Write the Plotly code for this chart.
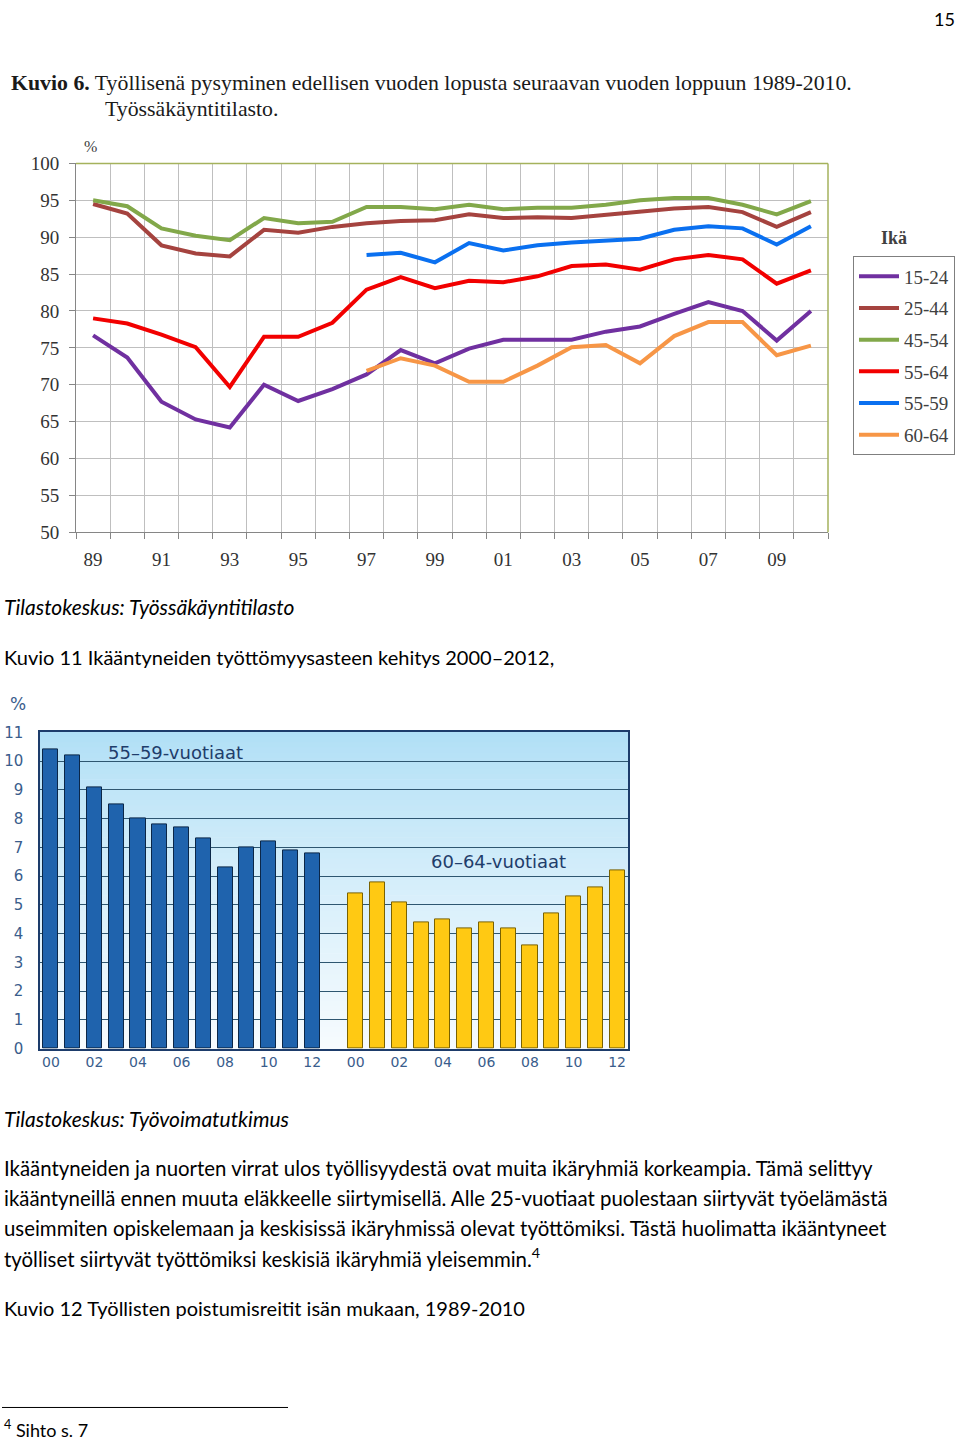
import plotly.graph_objects as go

W, H = 960, 1451

# ---------------- Data: chart 1 (Kuvio 6) ----------------
years = list(range(1989, 2011))
year_labels = ["89", "91", "93", "95", "97", "99", "01", "03", "05", "07", "09"]
series_names = ["15-24", "25-44", "45-54", "55-64", "55-59", "60-64"]
v15_24 = [76.7, 73.7, 67.7, 65.3, 64.2, 70.0, 67.8, 69.4, 71.4, 74.7, 72.9, 74.9,
          76.1, 76.1, 76.1, 77.2, 77.9, 79.6, 81.2, 80.0, 76.0, 80.0]
v25_44 = [94.5, 93.2, 88.9, 87.8, 87.4, 91.0, 90.6, 91.4, 91.9, 92.2, 92.3, 93.1,
          92.6, 92.7, 92.6, 93.0, 93.4, 93.9, 94.1, 93.4, 91.4, 93.4]
v45_54 = [95.0, 94.2, 91.2, 90.2, 89.6, 92.6, 91.9, 92.1, 94.1, 94.1, 93.8, 94.4,
          93.8, 94.0, 94.0, 94.4, 95.0, 95.3, 95.3, 94.4, 93.1, 94.9]
v55_64 = [79.0, 78.3, 76.8, 75.1, 69.7, 76.5, 76.5, 78.4, 82.9, 84.6, 83.1, 84.1,
          83.9, 84.7, 86.1, 86.3, 85.6, 87.0, 87.6, 87.0, 83.7, 85.5]
v55_59 = [None] * 8 + [87.6, 87.9, 86.6, 89.2, 88.2, 88.9, 89.3, 89.6, 89.8, 91.0,
                       91.5, 91.2, 89.0, 91.5]
v60_64 = [None] * 8 + [71.9, 73.6, 72.6, 70.4, 70.4, 72.6, 75.1, 75.4, 72.9, 76.6,
                       78.5, 78.5, 74.0, 75.3]
series_values = [v15_24, v25_44, v45_54, v55_64, v55_59, v60_64]
series_colors = ["#7030A0", "#A5433F", "#82A84A", "#F20000", "#0A70F0", "#F79646"]

# ---------------- Data: chart 2 (Kuvio 11) ----------------
bar_years = ["00", "01", "02", "03", "04", "05", "06", "07", "08", "09", "10", "11", "12"]
unemp_55_59 = [10.4, 10.2, 9.1, 8.5, 8.0, 7.8, 7.7, 7.3, 6.3, 7.0, 7.2, 6.9, 6.8]
unemp_60_64 = [5.4, 5.8, 5.1, 4.4, 4.5, 4.2, 4.4, 4.2, 3.6, 4.7, 5.3, 5.6, 6.2]


def px(x):
    return x / W


def py(y):
    return 1 - y / H


fig = go.Figure()

# ---- chart 1 lines ----
for name, vals, col in zip(series_names, series_values, series_colors):
    fig.add_trace(go.Scatter(
        x=years, y=vals, mode="lines", name=name, legendgroup=name,
        line=dict(color=col, width=4), xaxis="x", yaxis="y",
        connectgaps=False, showlegend=True))

# ---- chart 2 bars ----
n = len(bar_years)
x_blue = list(range(n))
x_yellow = [n + 1 + i for i in range(n)]
fig.add_trace(go.Bar(x=x_blue, y=unemp_55_59, width=0.69, xaxis="x2", yaxis="y2",
                     marker=dict(color="#1F63AD", line=dict(color="#0B2748", width=1)),
                     showlegend=False))
fig.add_trace(go.Bar(x=x_yellow, y=unemp_60_64, width=0.69, xaxis="x2", yaxis="y2",
                     marker=dict(color="#FFC913", line=dict(color="#7A6200", width=1)),
                     showlegend=False))

serif = "Liberation Serif, Times New Roman, serif"
calib = "Lato, Carlito, sans-serif"
verd = "DejaVu Sans, Verdana, sans-serif"

bounds = [y - 0.5 for y in years] + [years[-1] + 0.5]
odd_years = years[::2]

shapes = []
# chart 1 olive top/right border
shapes.append(dict(type="line", xref="x domain", yref="y domain", x0=0, x1=1, y0=1, y1=1,
                   line=dict(color="#A5B25C", width=1.5)))
shapes.append(dict(type="line", xref="x domain", yref="y domain", x0=1, x1=1, y0=0, y1=1,
                   line=dict(color="#A5B25C", width=1.5)))

# chart 2 gradient background
N = 60
top = (176, 223, 246)
bot = (246, 251, 254)
for i in range(N):
    t = i / (N - 1)
    tt = t ** 0.85
    c = tuple(int(round(top[k] + (bot[k] - top[k]) * tt)) for k in range(3))
    shapes.append(dict(type="rect", xref="x2 domain", yref="y2 domain",
                       x0=0, x1=1, y0=1 - (i + 1) / N, y1=1 - i / N + 0.002,
                       fillcolor="rgb(%d,%d,%d)" % c, line=dict(width=0), layer="below"))

# footnote rule
shapes.append(dict(type="line", xref="paper", yref="paper", x0=px(2), x1=px(288),
                   y0=py(1418), y1=py(1418), line=dict(color="black", width=1)))

annotations = []


def txt(x, y, s, size, family, color="black", xanchor="left", yanchor="middle"):
    annotations.append(dict(x=px(x), y=py(y), xref="paper", yref="paper", text=s,
                            showarrow=False, xanchor=xanchor, yanchor=yanchor,
                            font=dict(size=size, family=family, color=color)))


txt(957, 9, "15", 18, calib, xanchor="right")
txt(9, 74, "<b>Kuvio 6.</b> Työllisenä pysyminen edellisen vuoden lopusta seuraavan vuoden loppuun 1989-2010.",
    21.8, serif, "#1a1a1a")
txt(103, 100, "Työssäkäyntitilasto.", 21.8, serif, "#1a1a1a")
txt(82, 139, "%", 16, serif, "#404040")
txt(879, 231, "<b>Ikä</b>", 18, serif, "#404040")

txt(2, 605, "<i>Tilastokeskus: Työssäkäyntitilasto</i>", 21, calib)
txt(2, 656, "Kuvio 11 Ikääntyneiden työttömyysasteen kehitys 2000–2012,", 20, calib)
txt(8, 704, "%", 17, verd, "#3A5D8C")
txt(175, 753, "55–59-vuotiaat", 18, verd, "#1F3D6B", xanchor="center")
txt(498, 864, "60–64-vuotiaat", 18, verd, "#1F3D6B", xanchor="center")

txt(2, 1125, "<i>Tilastokeskus: Työvoimatutkimus</i>", 21, calib)
para = [
    "Ikääntyneiden ja nuorten virrat ulos työllisyydestä ovat muita ikäryhmiä korkeampia. Tämä selittyy",
    "ikääntyneillä ennen muuta eläkkeelle siirtymisellä. Alle 25-vuotiaat puolestaan siirtyvät työelämästä",
    "useimmiten opiskelemaan ja keskisissä ikäryhmissä olevat työttömiksi. Tästä huolimatta ikääntyneet",
    "työlliset siirtyvät työttömiksi keskisiä ikäryhmiä yleisemmin.<sup>4</sup>",
]
for i, line in enumerate(para):
    txt(2, 1175 + i * 30.4, line, 20.4, calib)
txt(2, 1317, "Kuvio 12 Työllisten poistumisreitit isän mukaan, 1989-2010", 20, calib)
txt(2, 1440, "<sup>4</sup> Sihto s. 7", 18, calib)

fig.update_layout(
    width=W, height=H,
    margin=dict(l=0, r=0, t=0, b=0),
    paper_bgcolor="white", plot_bgcolor="white",
    showlegend=True,
    legend=dict(x=px(853), y=py(250), xanchor="left", yanchor="top",
                bordercolor="#7F7F7F", borderwidth=1, bgcolor="white",
                font=dict(family=serif, size=19, color="#404040"),
                tracegroupgap=4, itemwidth=40, traceorder="grouped"),
    xaxis=dict(domain=[px(76), px(828)], range=[years[0] - 0.5, years[-1] + 0.5],
               anchor="y", tickmode="array", tickvals=odd_years, ticktext=year_labels,
               showgrid=False, ticks="", zeroline=False,
               showline=True, linecolor="#868686", linewidth=1,
               ticklabelstandoff=10,
               tickfont=dict(family=serif, size=19, color="#333333"),
               minor=dict(tickmode="array", tickvals=bounds, showgrid=True,
                          gridcolor="#BFBFBF", gridwidth=1, ticks="outside",
                          ticklen=6, tickcolor="#868686")),
    yaxis=dict(domain=[py(530), py(155.7)], range=[50, 100], dtick=5, anchor="x",
               showgrid=True, gridcolor="#BFBFBF", gridwidth=1, zeroline=False,
               showline=True, linecolor="#868686", linewidth=1,
               ticks="outside", ticklen=6, tickcolor="#868686",
               ticklabelstandoff=6,
               tickfont=dict(family=serif, size=19, color="#333333")),
    xaxis2=dict(domain=[px(40), px(628)], range=[-0.5, 2 * n + 0.5], anchor="y2",
                tickmode="array",
                tickvals=x_blue[::2] + x_yellow[::2],
                ticktext=bar_years[::2] + bar_years[::2],
                showgrid=False, zeroline=False, ticks="",
                showline=True, mirror=True, linecolor="#1D3C6B", linewidth=1.5,
                tickfont=dict(family=verd, size=14, color="#3A5D8C")),
    yaxis2=dict(domain=[py(1054), py(733)], range=[0, 11], dtick=1, anchor="x2",
                showgrid=True, gridcolor="#2E5670", gridwidth=1, zeroline=False,
                showline=True, mirror=True, linecolor="#1D3C6B", linewidth=1.5,
                ticks="", ticklabelstandoff=12,
                tickfont=dict(family=verd, size=15, color="#3A5D8C")),
    bargap=0,
    shapes=shapes,
    annotations=annotations,
)

fig.write_html("out.html", config={"displayModeBar": False},
               post_script="document.body.style.margin='0';document.body.style.overflow='hidden';")
